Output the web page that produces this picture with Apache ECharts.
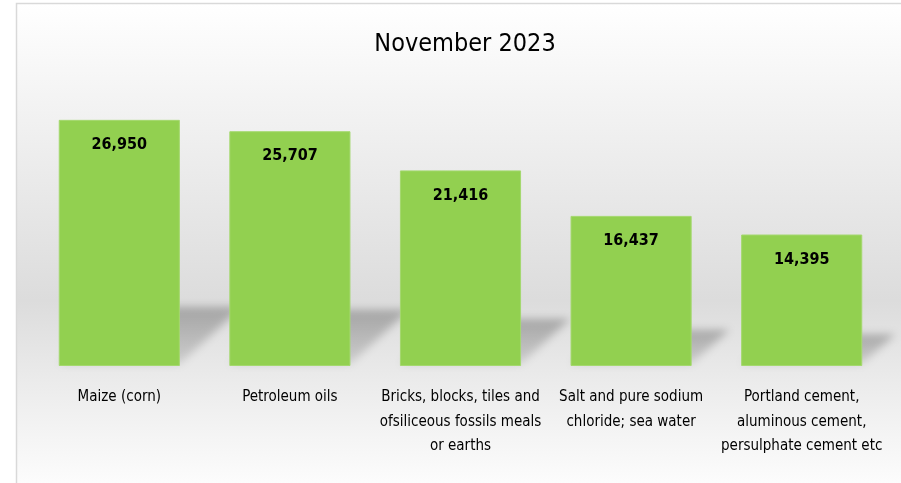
<!DOCTYPE html>
<html>
<head>
<meta charset="utf-8">
<script src="https://cdn.jsdelivr.net/npm/echarts@6/dist/echarts.min.js"></script>
<style>
  html, body { margin: 0; padding: 0; background: #ffffff; }
  #grafica { width: 901px; height: 483px; }
</style>
</head>
<body>
<div id="grafica"></div>
<script>
// datos de la grafica
var titulo = 'November 2023';
var categorias = [
    'Maize (corn)',
    'Petroleum oils',
    'Bricks, blocks, tiles and\nofsiliceous fossils meals\nor earths',
    'Salt and pure sodium\nchloride; sea water',
    'Portland cement,\naluminous cement,\npersulphate cement etc'
];
var valores = [26950, 25707, 21416, 16437, 14395];

var fuente = '"DejaVu Sans Condensed", "Liberation Sans Narrow", sans-serif';
var grafica = document.getElementById('grafica');
var myChart = echarts.init(grafica, null, {renderer: 'canvas'});

// sombra en perspectiva detras de cada barra (solo se ve la sombra difuminada)
var desplazado = 2000;
function dibujaSombra(params, api) {
    var base = api.coord([api.value(0), 0]);
    var tope = api.coord([api.value(0), api.value(1)]);
    var ancho = api.size([1, 0])[0] * 0.71;
    var x0 = base[0] - ancho / 2 - desplazado;
    var x1 = base[0] + ancho / 2 - desplazado;
    var dy = (base[1] - tope[1]) * 0.24;
    var dx = dy * 1.05;
    return {
        type: 'polygon',
        shape: {points: [[x0, base[1] - 2], [x1, base[1] - 2], [x1 + dx, base[1] - dy], [x0 + dx, base[1] - dy]]},
        style: {
            fill: new echarts.graphic.LinearGradient(0, 0, 0, 1, [
                {offset: 0, color: 'rgba(0,0,0,1)'},
                {offset: 1, color: 'rgba(0,0,0,0.45)'}
            ]),
            shadowBlur: 9,
            shadowOffsetX: desplazado,
            shadowColor: 'rgba(0,0,0,0.26)'
        }
    };
}

option = {
    backgroundColor: '#ffffff',
    animation: false,
    graphic: [{
        type: 'rect',
        z: -10,
        silent: true,
        shape: {x: 16.5, y: 3.5, width: 900, height: 495},
        style: {
            fill: new echarts.graphic.LinearGradient(0, 0, 0, 1, [
                {offset: 0, color: '#ffffff'},
                {offset: 0.22, color: '#f2f2f2'},
                {offset: 0.6, color: '#dcdcdc'},
                {offset: 0.75, color: '#eaeaea'},
                {offset: 1, color: '#ffffff'}
            ]),
            stroke: '#d9d9d9',
            lineWidth: 1.5
        }
    }],
    title: {
        text: titulo,
        left: 460,
        top: 27,
        textAlign: 'center',
        textStyle: {fontFamily: fuente, fontSize: 25, fontWeight: 'normal', color: '#000000'}
    },
    grid: {left: 34, right: 14, top: 92, bottom: 117, containLabel: false},
    xAxis: [{
        type: 'category',
        data: categorias,
        axisLine: {show: false},
        axisTick: {show: false},
        axisLabel: {
            interval: 0,
            margin: 19,
            fontFamily: fuente,
            fontSize: 15,
            lineHeight: 24.5,
            color: '#000000'
        }
    }],
    yAxis: [{
        type: 'value',
        min: 0,
        max: 30000,
        show: false,
        splitLine: {show: false}
    }],
    series: [
        {
            name: 'sombra',
            type: 'custom',
            renderItem: dibujaSombra,
            data: valores.map(function (v, i) { return [i, v]; }),
            z: 1,
            silent: true,
            clip: false
        },
        {
            name: 'valor',
            type: 'bar',
            data: valores,
            barWidth: '71%',
            z: 2,
            itemStyle: {color: '#92d050', borderColor: '#a4d86e', borderWidth: 1},
            label: {
                show: true,
                position: 'insideTop',
                distance: 17,
                fontFamily: fuente,
                fontSize: 16,
                fontWeight: 'bold',
                color: '#000000',
                formatter: function (p) { return p.value.toLocaleString('en-US'); }
            }
        }
    ]
};
myChart.setOption(option);
window.onresize = function () {
    myChart.resize();
};
</script>
</body>
</html>
